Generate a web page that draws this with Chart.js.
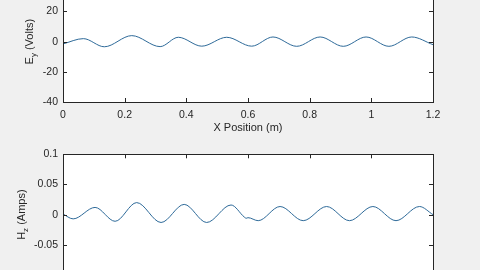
<!DOCTYPE html>
<html>
<head>
<meta charset="utf-8">
<script src="https://cdn.jsdelivr.net/npm/chart.js@4/dist/chart.umd.min.js"></script>
<style>
html, body { margin: 0; padding: 0; background: #f0f0f0; width: 480px; height: 270px; overflow: hidden; }
.plot { position: absolute; left: 0; width: 480px; height: 172px; }
#topBox { top: -30px; }
#botBox { top: 143px; }
</style>
</head>
<body>
<div class="plot" id="topBox"><canvas id="eyChart"></canvas></div>
<div class="plot" id="botBox"><canvas id="hzChart"></canvas></div>
<script>
// values
const xEy = [0, 0.066, 0.134, 0.223, 0.315, 0.374, 0.450, 0.531, 0.612, 0.681, 0.758, 0.834, 0.909, 0.983, 1.057, 1.131, 1.2];
const eyVolts = [-1.5, 2.0, -3.4, 4.0, -3.3, 2.9, -3.0, 2.9, -3.0, 3.1, -3.1, 3.1, -3.1, 3.1, -3.1, 3.1, -2.0];

const xHz = [0, 0.033, 0.104, 0.169, 0.239, 0.318, 0.393, 0.466, 0.545, 0.588, 0.594, 0.600, 0.633, 0.704, 0.779, 0.855, 0.929, 1.005, 1.080, 1.156, 1.2];
const hzAmps = [0.001, -0.007, 0.012, -0.011, 0.020, -0.013, 0.017, -0.013, 0.016, -0.004, -0.006, -0.005, -0.010, 0.0135, -0.010, 0.0135, -0.010, 0.0135, -0.010, 0.0135, 0.0];

const xTicks = [0, 0.2, 0.4, 0.6, 0.8, 1, 1.2];
const eyTicks = [-40, -20, 0, 20, 40];
const hzTicks = [-0.1, -0.05, 0, 0.05, 0.1];

const axisColor = '#262626';
const lineColor = '#2e6a99';
const fontFamily = '"Liberation Sans", Arial, sans-serif';

// white axes area, box on all four sides, inward ticks, y label with subscript
const matlabAxes = {
    id: 'matlabAxes',
    beforeDraw(chart) {
        const a = chart.chartArea;
        const ctx = chart.ctx;
        ctx.save();
        ctx.fillStyle = '#ffffff';
        ctx.fillRect(a.left, a.top, a.width, a.height);
        ctx.restore();
    },
    afterDraw(chart, args, opts) {
        const a = chart.chartArea;
        const ctx = chart.ctx;
        const sx = chart.scales.x;
        const sy = chart.scales.y;
        const len = 4;
        ctx.save();
        ctx.strokeStyle = axisColor;
        ctx.lineWidth = 1;
        ctx.strokeRect(Math.round(a.left) + 0.5, Math.round(a.top) + 0.5, Math.round(a.width), Math.round(a.height));
        ctx.beginPath();
        sx.ticks.forEach(t => {
            const px = Math.round(sx.getPixelForValue(t.value)) + 0.5;
            ctx.moveTo(px, a.bottom); ctx.lineTo(px, a.bottom - len);
            ctx.moveTo(px, a.top); ctx.lineTo(px, a.top + len);
        });
        sy.ticks.forEach(t => {
            const py = Math.round(sy.getPixelForValue(t.value)) + 0.5;
            ctx.moveTo(a.left, py); ctx.lineTo(a.left + len, py);
            ctx.moveTo(a.right, py); ctx.lineTo(a.right - len, py);
        });
        ctx.stroke();

        // x axis title
        if (opts.xTitle) {
            ctx.font = '11px ' + fontFamily;
            ctx.fillStyle = axisColor;
            ctx.textAlign = 'center';
            ctx.textBaseline = 'middle';
            ctx.fillText(opts.xTitle, (a.left + a.right) / 2, a.bottom + 26);
        }

        // y axis title, rotated, with subscript
        const big = '11px ' + fontFamily;
        const small = '8px ' + fontFamily;
        ctx.font = big;
        const wMain = ctx.measureText(opts.main).width;
        const wRest = ctx.measureText(opts.rest).width;
        ctx.font = small;
        const wSub = ctx.measureText(opts.sub).width;
        const total = wMain + wSub + wRest;
        ctx.translate(opts.titleX, (a.top + a.bottom) / 2);
        ctx.rotate(-Math.PI / 2);
        ctx.fillStyle = axisColor;
        ctx.textBaseline = 'middle';
        ctx.textAlign = 'left';
        let x = -total / 2;
        ctx.font = big;
        ctx.fillText(opts.main, x, 0);
        x += wMain;
        ctx.font = small;
        ctx.fillText(opts.sub, x, 4);
        x += wSub;
        ctx.font = big;
        ctx.fillText(opts.rest, x, 0);
        ctx.restore();
    }
};

const tickText = v => String(+Number(v).toFixed(4));

function makeChart(canvasId, xs, ys, yMin, yMax, yTickList, titles) {
    return new Chart(document.getElementById(canvasId), {
        type: 'line',
        data: {
            datasets: [{
                data: xs.map((x, i) => ({ x: x, y: ys[i] })),
                borderColor: lineColor,
                borderWidth: 1,
                pointRadius: 0,
                fill: false,
                cubicInterpolationMode: 'monotone'
            }]
        },
        options: {
            responsive: true,
            maintainAspectRatio: false,
            animation: false,
            layout: { padding: { top: 10, right: 47, bottom: 0, left: 0 } },
            scales: {
                x: {
                    type: 'linear',
                    min: 0,
                    max: 1.2,
                    afterBuildTicks: s => { s.ticks = xTicks.map(v => ({ value: v })); },
                    afterFit: s => { s.height = 40; },
                    grid: { display: false, drawTicks: false },
                    border: { display: false },
                    ticks: { color: axisColor, padding: 7, callback: tickText, font: { family: fontFamily, size: 10.5 } }
                },
                y: {
                    type: 'linear',
                    min: yMin,
                    max: yMax,
                    afterBuildTicks: s => { s.ticks = yTickList.map(v => ({ value: v })); },
                    afterFit: s => { s.width = 63; },
                    grid: { display: false, drawTicks: false },
                    border: { display: false },
                    ticks: { color: axisColor, padding: 5, callback: tickText, font: { family: fontFamily, size: 10.5 } }
                }
            },
            plugins: {
                legend: { display: false },
                tooltip: { enabled: false },
                matlabAxes: titles
            }
        },
        plugins: [matlabAxes]
    });
}

makeChart('eyChart', xEy, eyVolts, -40, 40, eyTicks, { main: 'E', sub: 'y', rest: ' (Volts)', titleX: 30, xTitle: 'X Position (m)' });
makeChart('hzChart', xHz, hzAmps, -0.1, 0.1, hzTicks, { main: 'H', sub: 'z', rest: ' (Amps)', titleX: 22, xTitle: 'X Position (m)' });
</script>
</body>
</html>
